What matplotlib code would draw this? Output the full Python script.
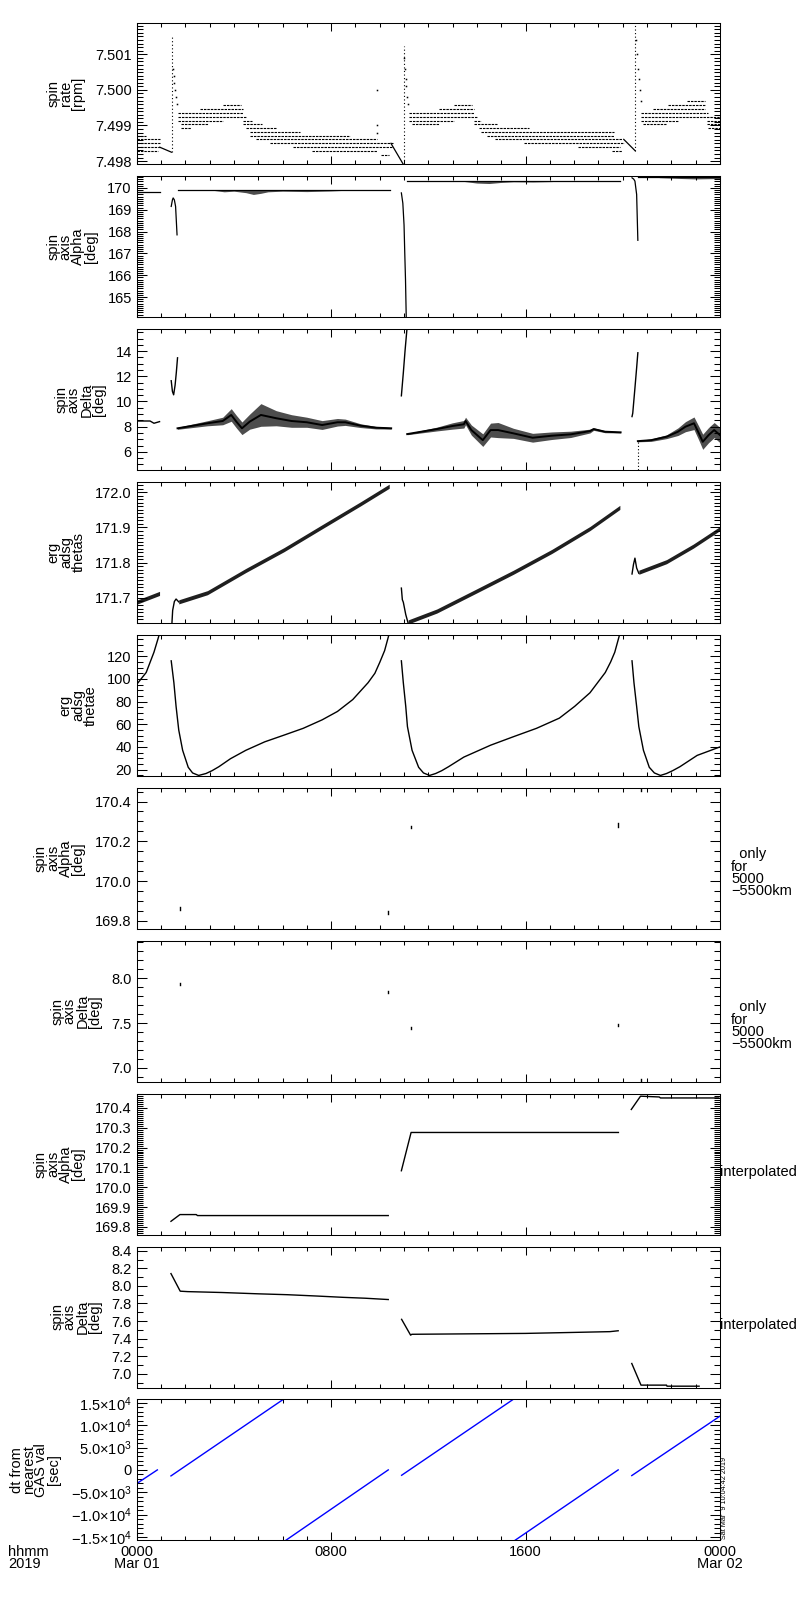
import matplotlib
matplotlib.use('Agg')
import matplotlib.pyplot as plt
from matplotlib.ticker import MultipleLocator, FixedLocator

plt.rcParams['font.family'] = ['Liberation Sans', 'DejaVu Sans']
plt.rcParams['mathtext.fontset'] = 'custom'
plt.rcParams['mathtext.rm'] = 'Liberation Sans'
plt.rcParams['mathtext.it'] = 'Liberation Sans'
plt.rcParams['mathtext.default'] = 'regular'
FS = 10.5

# ---------------- DATA (time in hours from 2019-03-01 00:00) ----------------
# Panel 1: spin rate [rpm] -- quantised rows (value, t_start, t_end)
rate_row_val = [7.49871, 7.49861, 7.49850, 7.49839, 7.49829,
                7.49957, 7.49946, 7.49936, 7.49925, 7.49914, 7.49914, 7.49903, 7.49903,
                7.49893, 7.49893, 7.49882, 7.49871, 7.49861, 7.49850, 7.49839, 7.49829, 7.49818,
                7.49957, 7.49946, 7.49936, 7.49925, 7.49914, 7.49914, 7.49903, 7.49903,
                7.49893, 7.49882, 7.49871, 7.49861, 7.49850, 7.49839, 7.49829,
                7.49968, 7.49957, 7.49946, 7.49936, 7.49925, 7.49914, 7.49914, 7.49903,
                7.49903, 7.49893]
rate_row_t0 = [0.00, 0.00, 0.00, 0.00, 0.00,
               3.56, 2.61, 1.69, 1.69, 1.69, 4.36, 1.82, 4.36,
               1.82, 4.51, 4.67, 4.67, 4.91, 5.47, 6.42, 7.21, 10.06,
               13.07, 12.44, 11.20, 11.20, 11.20, 13.86, 11.33, 13.86,
               14.10, 14.18, 14.42, 14.73, 15.92, 18.14, 19.56,
               22.65, 21.86, 21.23, 20.75, 20.75, 20.75, 23.45, 20.83,
               23.45, 23.52]
rate_row_t1 = [0.40, 0.95, 0.95, 0.95, 0.87,
               4.28, 4.36, 4.36, 4.51, 3.56, 4.75, 2.93, 5.15,
               2.22, 5.78, 6.73, 8.79, 9.90, 10.53, 10.53, 9.90, 10.38,
               13.78, 13.86, 13.86, 14.02, 13.07, 14.18, 12.44, 14.81,
               16.16, 19.64, 19.64, 19.96, 20.04, 19.88, 19.96,
               23.37, 23.37, 23.37, 23.52, 24.00, 22.26, 24.00, 21.78,
               24.00, 24.00]
rate_line_t = [[0.95, 1.43], [10.46, 10.96], [20.04, 20.51]]
rate_line_v = [[7.49839, 7.49825], [7.49850, 7.49792], [7.49861, 7.49829]]
rate_spike_t = [1.45, 10.98, 20.52]
rate_spike_lo = [7.49825, 7.49792, 7.49829]
rate_spike_hi = [7.50152, 7.50122, 7.50187]
rate_dot_t = [1.50, 1.52, 1.55, 1.58, 1.62, 1.66, 11.00, 11.03, 11.06, 11.09, 11.13, 11.17,
              20.55, 20.58, 20.62, 20.66, 20.70, 20.74, 9.90, 9.90, 9.90]
rate_dot_v = [7.5006, 7.5004, 7.5002, 7.5000, 7.4998, 7.4996, 7.5009, 7.5006, 7.5003, 7.5001,
              7.4998, 7.4996, 7.5014, 7.5010, 7.5006, 7.5003, 7.5000, 7.4997, 7.5000, 7.4990, 7.4988]

# Panel 2: spin axis Alpha [deg]
alpha_seg_t = [[0.0, 0.95],
               [1.42, 1.47, 1.50, 1.55, 1.60, 1.63, 1.66],
               [1.69, 10.43],
               [10.89, 10.95, 11.00, 11.03, 11.06, 11.09],
               [11.13, 19.90],
               [20.38, 20.45, 20.50, 20.57, 20.62],
               [20.63, 24.0]]
alpha_seg_v = [[169.83, 169.83],
               [169.15, 169.45, 169.54, 169.45, 169.15, 168.5, 167.85],
               [169.91, 169.91],
               [169.77, 169.30, 168.30, 167.00, 165.80, 164.07],
               [170.31, 170.31],
               [170.46, 170.40, 170.31, 169.70, 167.60],
               [170.48, 170.48]]
alpha_noise_t = [[3.2, 3.6, 4.0, 4.5, 4.8, 5.1, 5.4, 6.0, 7.0, 8.0, 8.6],
                 [13.5, 14.0, 14.5, 15.0, 15.5, 16.3, 17.1],
                 [21.5, 22.4, 23.0, 23.5, 24.0]]
alpha_noise_lo = [[169.88, 169.82, 169.85, 169.78, 169.70, 169.75, 169.82, 169.85, 169.83, 169.86, 169.89],
                  [170.29, 170.22, 170.20, 170.25, 170.28, 170.27, 170.29],
                  [170.47, 170.43, 170.41, 170.42, 170.43]]
alpha_noise_hi = [169.92, 170.32, 170.50]

# Panel 3: spin axis Delta [deg] (centre of band and half width)
delta_thin_t = [[0.0, 0.55, 0.71, 0.94],
                [1.42, 1.47, 1.52, 1.58, 1.63, 1.68],
                [10.89, 10.97, 11.04, 11.13],
                [20.38, 20.41, 20.50, 20.57, 20.62]]
delta_thin_v = [[8.45, 8.45, 8.27, 8.40],
                [11.65, 10.80, 10.53, 11.30, 12.30, 13.47],
                [10.45, 12.27, 14.00, 16.00],
                [8.80, 9.07, 11.07, 12.67, 13.87]]
delta_band_t = [[1.68, 2.91, 3.54, 3.89, 4.10, 4.33, 4.65, 5.11, 5.74, 6.37, 7.00, 7.63, 8.26, 8.58, 9.21, 9.84, 10.47],
                [11.13, 12.35, 12.98, 13.46, 13.53, 13.77, 14.24, 14.56, 14.87, 15.50, 16.29, 17.07, 17.86, 18.65, 18.80, 19.27, 19.91],
                [20.62, 21.17, 21.80, 22.27, 22.58, 22.93, 23.13, 23.29, 23.53, 23.76, 24.0]]
delta_band_v = [[7.87, 8.27, 8.45, 8.93, 8.40, 7.87, 8.40, 8.93, 8.67, 8.45, 8.35, 8.13, 8.35, 8.35, 8.08, 7.92, 7.87],
                [7.41, 7.81, 8.05, 8.19, 8.45, 7.73, 6.93, 7.73, 7.73, 7.47, 7.12, 7.28, 7.39, 7.65, 7.81, 7.60, 7.55],
                [6.85, 6.93, 7.20, 7.60, 8.00, 8.27, 7.47, 6.80, 7.33, 7.73, 7.33]]
delta_band_hw = [[0.08, 0.2, 0.3, 0.5, 0.5, 0.5, 0.6, 0.9, 0.6, 0.5, 0.4, 0.35, 0.3, 0.25, 0.15, 0.1, 0.06],
                 [0.05, 0.15, 0.25, 0.3, 0.3, 0.4, 0.5, 0.55, 0.6, 0.4, 0.35, 0.3, 0.25, 0.15, 0.1, 0.08, 0.05],
                 [0.05, 0.1, 0.15, 0.3, 0.4, 0.5, 0.55, 0.6, 0.6, 0.6, 0.6]]
delta_drop_t = 20.62
delta_drop_v = [6.80, 4.50]

# Panel 4: erg adsg thetas
thetas_thin_t = [[1.45, 1.48, 1.55, 1.62, 1.73],
                 [10.89, 10.93, 10.97, 11.07, 11.17],
                 [20.38, 20.44, 20.50, 20.57, 20.66]]
thetas_thin_v = [[171.629, 171.665, 171.690, 171.697, 171.689],
                 [171.728, 171.695, 171.688, 171.653, 171.628],
                 [171.768, 171.795, 171.813, 171.785, 171.770]]
thetas_band_t = [[0.0, 0.94],
                 [1.73, 2.91, 4.49, 6.06, 7.63, 9.21, 10.39],
                 [11.17, 12.35, 13.93, 15.50, 17.08, 18.65, 19.88],
                 [20.66, 21.80, 22.90, 24.0]]
thetas_band_v = [[171.688, 171.713],
                 [171.689, 171.715, 171.778, 171.837, 171.902, 171.967, 172.017],
                 [171.632, 171.663, 171.718, 171.773, 171.832, 171.897, 171.957],
                 [171.773, 171.803, 171.847, 171.897]]
thetas_hw = 0.0058

# Panel 5: erg adsg thetae
thetae_t = [[0.0, 0.39, 0.71, 0.94],
            [1.42, 1.53, 1.62, 1.73, 1.89, 2.12, 2.30, 2.55, 2.85, 3.10, 3.38, 3.86, 4.49, 5.27,
             6.06, 6.85, 7.63, 8.26, 8.89, 9.52, 9.80, 10.00, 10.20, 10.39],
            [10.89, 10.97, 11.07, 11.14, 11.33, 11.60, 11.80, 12.05, 12.30, 12.55, 12.83, 13.46,
             14.56, 15.50, 16.45, 17.39, 18.02, 18.65, 19.28, 19.50, 19.67, 19.88],
            [20.38, 20.46, 20.57, 20.66, 20.85, 21.09, 21.30, 21.55, 21.80, 22.05, 22.35, 23.06, 24.0]]
thetae_v = [[95.2, 105.7, 123.6, 140.0],
            [116.0, 96.7, 75.8, 54.9, 37.0, 22.0, 17.0, 14.8, 16.5, 19.0, 22.5, 29.6, 37.0, 44.5,
             50.4, 56.4, 63.9, 71.3, 81.8, 96.7, 105.0, 114.6, 125.0, 140.0],
            [116.0, 96.7, 75.8, 57.9, 37.0, 22.0, 17.0, 14.8, 16.5, 19.0, 22.5, 31.0,
             41.5, 49.0, 56.4, 65.4, 75.8, 87.8, 105.7, 115.0, 123.6, 140.0],
            [116.0, 96.7, 75.8, 57.9, 37.0, 22.0, 17.0, 14.8, 16.5, 19.0, 22.5, 32.5, 40.0]]

# Panels 6/7: only for 5000-5500 km
only_t = [1.78, 10.36, 11.29, 19.82, 20.73]
only_alpha_lo = [169.855, 169.835, 170.265, 170.270, 170.455]
only_alpha_hi = [169.868, 169.850, 170.278, 170.290, 170.470]
only_delta_lo = [7.92, 7.83, 7.43, 7.47, 6.86]
only_delta_hi = [7.95, 7.86, 7.46, 7.49, 6.88]

# Panels 8/9: interpolated
interp_alpha_t = [[1.41, 1.78, 2.45, 2.50, 10.35],
                  [10.89, 11.29, 19.82],
                  [20.35, 20.73, 21.50, 21.55, 23.95]]
interp_alpha_v = [[169.828, 169.862, 169.862, 169.857, 169.857],
                  [170.083, 170.276, 170.276],
                  [170.392, 170.459, 170.455, 170.450, 170.450]]
interp_delta_t = [[1.41, 1.79, 2.10, 3.50, 5.00, 6.20, 7.40, 8.50, 9.40, 10.35],
                  [10.90, 11.27, 11.32, 16.00, 17.76, 19.47, 19.81],
                  [20.37, 20.75, 21.80, 21.82, 23.14]]
interp_delta_v = [[8.14, 7.94, 7.935, 7.925, 7.91, 7.90, 7.885, 7.87, 7.86, 7.845],
                  [7.62, 7.44, 7.45, 7.46, 7.47, 7.48, 7.49],
                  [7.118, 6.872, 6.872, 6.860, 6.860]]

# Panel 10: dt from nearest GAS val [sec]
dt_t = [[0.0, 0.85], [1.41, 6.03], [6.13, 10.35], [10.90, 15.49], [15.56, 19.81], [20.37, 24.0]]
dt_v = [[-3060, 0], [-1343, 15750], [-15750, 0], [-1200, 15750], [-15750, 0], [-1269, 12015]]

ylabels = ['spin\nrate\n[rpm]', 'spin\naxis\nAlpha\n[deg]', 'spin\naxis\nDelta\n[deg]',
           'erg\nadsg\nthetas', 'erg\nadsg\nthetae', 'spin\naxis\nAlpha\n[deg]',
           'spin\naxis\nDelta\n[deg]', 'spin\naxis\nAlpha\n[deg]', 'spin\naxis\nDelta\n[deg]',
           'dt from\nnearest\nGAS val\n[sec]']
ylims = [(7.49791, 7.50187), (164.08, 170.535), (4.55, 15.75), (171.629, 172.029), (14.4, 138.9),
         (169.76, 170.469), (6.847, 8.418), (169.761, 170.472), (6.845, 8.448), (-15750, 15750)]
yticks = [[7.498, 7.499, 7.500, 7.501], [165, 166, 167, 168, 169, 170], [6, 8, 10, 12, 14],
          [171.7, 171.8, 171.9, 172.0], [20, 40, 60, 80, 100, 120], [169.8, 170.0, 170.2, 170.4],
          [7.0, 7.5, 8.0], [169.8, 169.9, 170.0, 170.1, 170.2, 170.3, 170.4],
          [7.0, 7.2, 7.4, 7.6, 7.8, 8.0, 8.2, 8.4], [-15000, -10000, -5000, 0, 5000, 10000, 15000]]
yticklabels = [['7.498', '7.499', '7.500', '7.501'], ['165', '166', '167', '168', '169', '170'],
               ['6', '8', '10', '12', '14'], ['171.7', '171.8', '171.9', '172.0'],
               ['20', '40', '60', '80', '100', '120'], ['169.8', '170.0', '170.2', '170.4'],
               ['7.0', '7.5', '8.0'], ['169.8', '169.9', '170.0', '170.1', '170.2', '170.3', '170.4'],
               ['7.0', '7.2', '7.4', '7.6', '7.8', '8.0', '8.2', '8.4'],
               ['\u22121.5\u00d710$^{4}$', '\u22121.0\u00d710$^{4}$', '\u22125.0\u00d710$^{3}$', '0',
                '5.0\u00d710$^{3}$', '1.0\u00d710$^{4}$', '1.5\u00d710$^{4}$']]
yminor = [0.0001, 0.1, 0.5, 0.01, 5, 0.05, 0.1, 0.01, 0.1, 1000]
xtick_hours = [0, 8, 16, 24]
xtick_labels = ['0000\nMar 01', '0800', '1600', '0000\nMar 02']
right_labels = {5: '  only\nfor\n5000\n\u22125500km', 6: '  only\nfor\n5000\n\u22125500km',
                7: 'interpolated', 8: 'interpolated'}

# ---------------- LAYOUT ----------------
W, H = 800.0, 1600.0
L_PX, R_PX = 136.7, 720.0
TOP0, PITCH, PH = 23.3, 152.9, 141.0
LW = 0.75

fig = plt.figure(figsize=(8, 16), dpi=100)
axes = []
for i in range(10):
    top = TOP0 + PITCH * i
    ax = fig.add_axes([L_PX / W, 1 - (top + PH) / H, (R_PX - L_PX) / W, PH / H])
    ax.set_xlim(0, 24)
    ax.set_ylim(*ylims[i])
    ax.xaxis.set_major_locator(FixedLocator(xtick_hours))
    ax.xaxis.set_minor_locator(MultipleLocator(1))
    ax.set_yticks(yticks[i])
    ax.set_yticklabels(yticklabels[i], fontsize=FS)
    ax.yaxis.set_minor_locator(MultipleLocator(yminor[i]))
    ax.tick_params(axis='both', which='both', direction='in', top=True, right=True,
                   labelbottom=False, width=LW, color='k', pad=3.5)
    ax.tick_params(axis='x', which='major', length=5.5)
    ax.tick_params(axis='x', which='minor', length=3.2)
    ax.tick_params(axis='y', which='major', length=7.5)
    ax.tick_params(axis='y', which='minor', length=4)
    for s in ax.spines.values():
        s.set_linewidth(LW)
    ax.set_ylabel(ylabels[i], fontsize=FS, linespacing=0.86, labelpad=7)
    if i in right_labels:
        txt = right_labels[i]
        cy = top + PH / 2
        if '\n' in txt:
            fig.text(731 / W, 1 - (cy + 14.5) / H, txt, fontsize=FS, ha='left', va='center',
                     linespacing=0.84)
        else:
            fig.text(720 / W, 1 - (cy + 8) / H, txt, fontsize=FS, ha='left', va='center')
    axes.append(ax)

# Panel 1
ax = axes[0]
for v, t0, t1 in zip(rate_row_val, rate_row_t0, rate_row_t1):
    ax.plot([t0, t1], [v, v], color='k', lw=0.8, ls=(0, (2.2, 0.9)))
for tt, vv in zip(rate_line_t, rate_line_v):
    ax.plot(tt, vv, color='k', lw=0.9)
for t, lo, hi in zip(rate_spike_t, rate_spike_lo, rate_spike_hi):
    ax.plot([t, t], [lo, hi], color='k', lw=0.8, ls=(0, (1, 2.2)))
ax.plot(rate_dot_t, rate_dot_v, ls='none', marker='s', ms=1.1, color='k', mew=0)

# Panel 2
ax = axes[1]
for tt, vv in zip(alpha_seg_t, alpha_seg_v):
    ax.plot(tt, vv, color='k', lw=0.9)
for tt, lo, hi in zip(alpha_noise_t, alpha_noise_lo, alpha_noise_hi):
    ax.fill_between(tt, lo, [hi] * len(tt), color='0.3', lw=0)

# Panel 3
ax = axes[2]
for tt, vv in zip(delta_thin_t, delta_thin_v):
    ax.plot(tt, vv, color='k', lw=1.0)
for tt, vv, hw in zip(delta_band_t, delta_band_v, delta_band_hw):
    ax.fill_between(tt, [a - b for a, b in zip(vv, hw)], [a + b for a, b in zip(vv, hw)],
                    color='0.3', lw=0)
    ax.plot(tt, vv, color='k', lw=1.4)
ax.plot([delta_drop_t, delta_drop_t], delta_drop_v, color='k', lw=0.8, ls=(0, (1, 2)))

# Panel 4
ax = axes[3]
for tt, vv in zip(thetas_thin_t, thetas_thin_v):
    ax.plot(tt, vv, color='k', lw=1.0)
for tt, vv in zip(thetas_band_t, thetas_band_v):
    ax.fill_between(tt, [a - thetas_hw for a in vv], [a + thetas_hw for a in vv],
                    color='0.12', lw=0)

# Panel 5
ax = axes[4]
for tt, vv in zip(thetae_t, thetae_v):
    ax.plot(tt, vv, color='k', lw=1.0)

# Panels 6, 7
for t, lo, hi in zip(only_t, only_alpha_lo, only_alpha_hi):
    axes[5].plot([t, t], [lo, hi], color='k', lw=1.0)
for t, lo, hi in zip(only_t, only_delta_lo, only_delta_hi):
    axes[6].plot([t, t], [lo, hi], color='k', lw=1.0)

# Panels 8, 9
for tt, vv in zip(interp_alpha_t, interp_alpha_v):
    axes[7].plot(tt, vv, color='k', lw=1.0)
for tt, vv in zip(interp_delta_t, interp_delta_v):
    axes[8].plot(tt, vv, color='k', lw=1.0)

# Panel 10
ax = axes[9]
for tt, vv in zip(dt_t, dt_v):
    ax.plot(tt, vv, color='#0000ff', lw=1.0)
xtr = ax.get_xaxis_transform()
for h, lab in zip(xtick_hours, xtick_labels):
    ax.text(h, -0.035, lab, transform=xtr, ha='center', va='top', fontsize=FS, linespacing=0.82)
fig.text(8 / W, 1 - (1540.3 + 5) / H, 'hhmm\n2019', ha='left', va='top', fontsize=FS, linespacing=0.82)
fig.text(724.5 / W, 1 - 1539 / H, 'Sat Mar  9 10:04:42 2019', rotation=90, ha='center',
         va='bottom', fontsize=5.2)

fig.savefig('out.png', dpi=100, facecolor='white')
